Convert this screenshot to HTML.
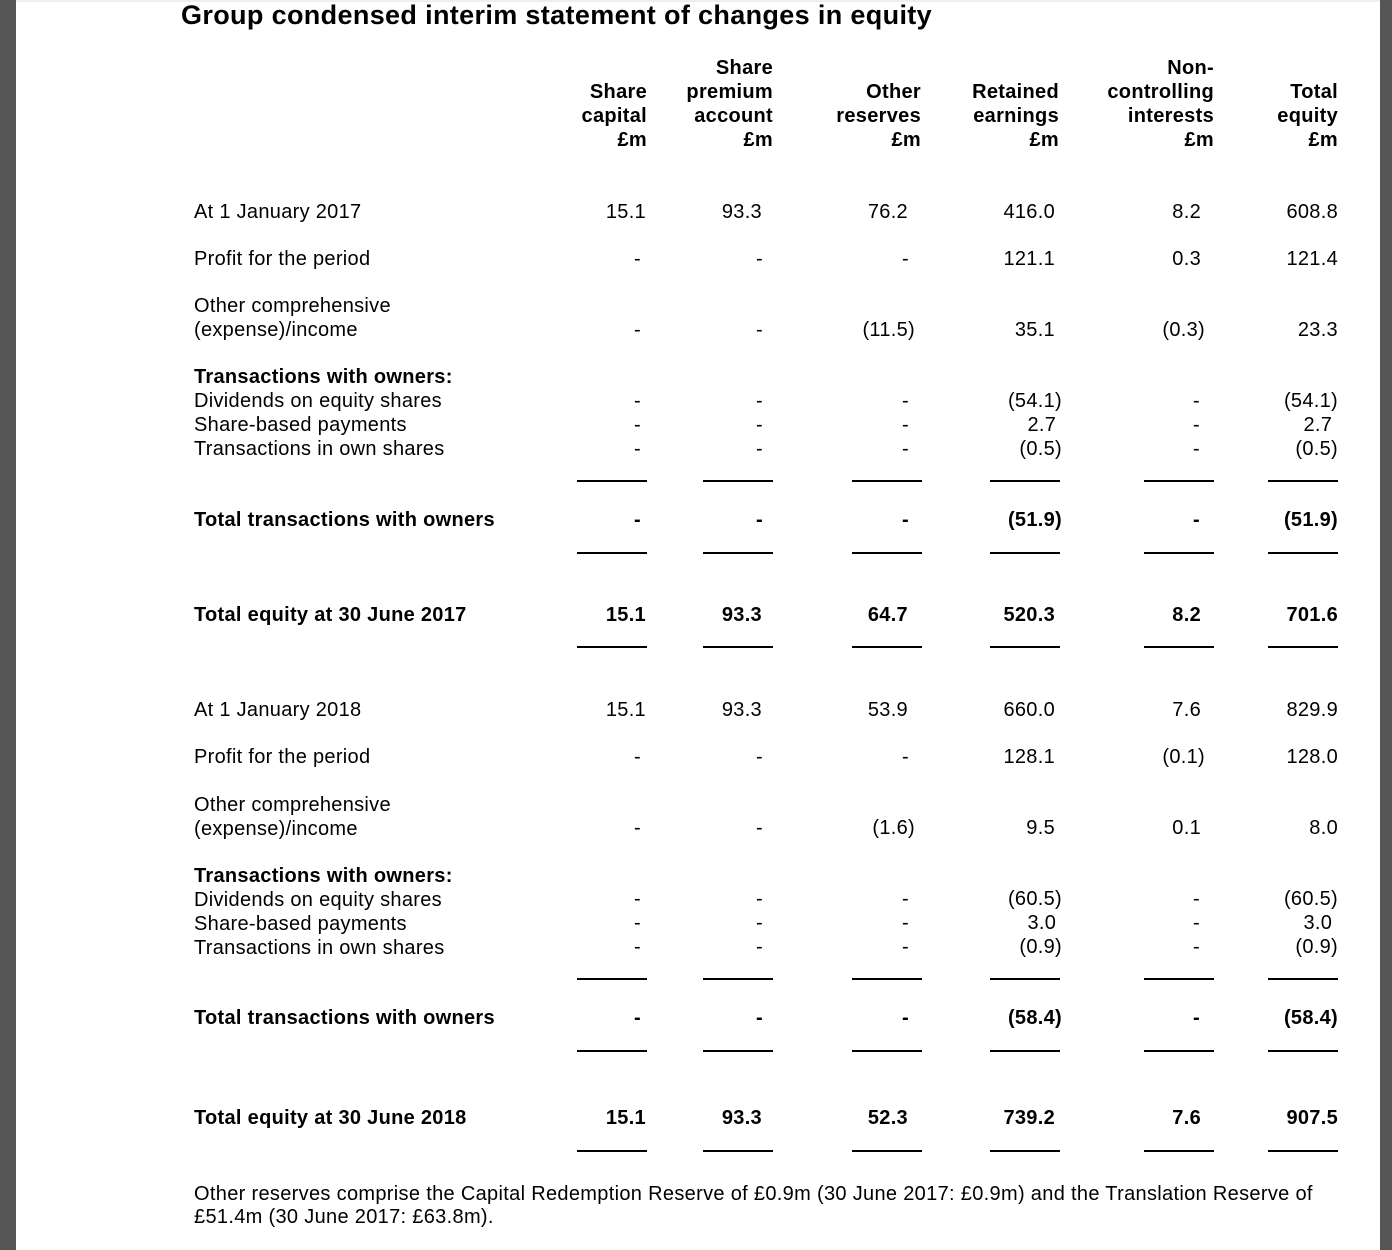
<!DOCTYPE html>
<html><head><meta charset="utf-8"><style>
body{margin:0;width:1392px;height:1250px;position:relative;background:#fff;font-family:"Liberation Sans",Arial,sans-serif;color:#000;overflow:hidden}
.lg{position:absolute;left:0;top:0;width:16px;height:1250px;background:#555}
.rg{position:absolute;left:1380px;top:0;width:12px;height:1250px;background:#555}
.tp{position:absolute;left:16px;top:0;width:1364px;height:2px;background:#eee}
.t{position:absolute;font-size:20px;line-height:24px;white-space:nowrap;letter-spacing:0.3px;margin-top:1px}
.l{left:194px}
.b{font-weight:bold}
.h{position:absolute;font-size:20px;line-height:24px;font-weight:bold;text-align:right;white-space:nowrap;letter-spacing:0.3px}
.ln{position:absolute;height:2px;background:#000;width:70px}
</style></head><body>
<div class="lg"></div><div class="rg"></div><div class="tp"></div>
<div class="t b" style="left:181px;top:-1px;font-size:27px;line-height:32px;letter-spacing:0.35px;margin-top:0">Group condensed interim statement of changes in equity</div>

<div class="h" style="right:745px;top:80px">Share<br>capital<br>£m</div>
<div class="h" style="right:619px;top:56px">Share<br>premium<br>account<br>£m</div>
<div class="h" style="right:471px;top:80px">Other<br>reserves<br>£m</div>
<div class="h" style="right:333px;top:80px">Retained<br>earnings<br>£m</div>
<div class="h" style="right:178px;top:56px">Non-<br>controlling<br>interests<br>£m</div>
<div class="h" style="right:54px;top:80px">Total<br>equity<br>£m</div>

<!-- 2017 -->
<div class="t l" style="top:199px">At 1 January 2017</div>
<div class="t" style="top:199px;right:746px">15.1</div><div class="t" style="top:199px;right:630px">93.3</div><div class="t" style="top:199px;right:484px">76.2</div><div class="t" style="top:199px;right:337px">416.0</div><div class="t" style="top:199px;right:191px">8.2</div><div class="t" style="top:199px;right:54px">608.8</div>

<div class="t l" style="top:246px">Profit for the period</div>
<div class="t" style="top:246px;right:751px">-</div><div class="t" style="top:246px;right:629px">-</div><div class="t" style="top:246px;right:483px">-</div><div class="t" style="top:246px;right:337px">121.1</div><div class="t" style="top:246px;right:191px">0.3</div><div class="t" style="top:246px;right:54px">121.4</div>

<div class="t l" style="top:293px">Other comprehensive<br>(expense)/income</div>
<div class="t" style="top:317px;right:751px">-</div><div class="t" style="top:317px;right:629px">-</div><div class="t" style="top:317px;right:477px">(11.5)</div><div class="t" style="top:317px;right:337px">35.1</div><div class="t" style="top:317px;right:187px">(0.3)</div><div class="t" style="top:317px;right:54px">23.3</div>

<div class="t l" style="top:364px"><b>Transactions with owners:</b><br>Dividends on equity shares<br>Share-based payments<br>Transactions in own shares</div>
<div class="t" style="top:388px;right:751px;text-align:right">-<br>-<br>-</div>
<div class="t" style="top:388px;right:629px;text-align:right">-<br>-<br>-</div>
<div class="t" style="top:388px;right:483px;text-align:right">-<br>-<br>-</div>
<div class="t" style="top:388px;right:330px;text-align:right">(54.1)<br>2.7&nbsp;<br>(0.5)</div>
<div class="t" style="top:388px;right:192px;text-align:right">-<br>-<br>-</div>
<div class="t" style="top:388px;right:54px;text-align:right">(54.1)<br>2.7&nbsp;<br>(0.5)</div>

<div class="ln" style="left:577px;top:480px"></div><div class="ln" style="left:703px;top:480px"></div><div class="ln" style="left:852px;top:480px"></div><div class="ln" style="left:990px;top:480px"></div><div class="ln" style="left:1144px;top:480px"></div><div class="ln" style="left:1268px;top:480px"></div>

<div class="t l b" style="top:507px">Total transactions with owners</div>
<div class="t b" style="top:507px;right:751px">-</div><div class="t b" style="top:507px;right:629px">-</div><div class="t b" style="top:507px;right:483px">-</div><div class="t b" style="top:507px;right:330px">(51.9)</div><div class="t b" style="top:507px;right:192px">-</div><div class="t b" style="top:507px;right:54px">(51.9)</div>

<div class="ln" style="left:577px;top:552px"></div><div class="ln" style="left:703px;top:552px"></div><div class="ln" style="left:852px;top:552px"></div><div class="ln" style="left:990px;top:552px"></div><div class="ln" style="left:1144px;top:552px"></div><div class="ln" style="left:1268px;top:552px"></div>

<div class="t l b" style="top:602px">Total equity at 30 June 2017</div>
<div class="t b" style="top:602px;right:746px">15.1</div><div class="t b" style="top:602px;right:630px">93.3</div><div class="t b" style="top:602px;right:484px">64.7</div><div class="t b" style="top:602px;right:337px">520.3</div><div class="t b" style="top:602px;right:191px">8.2</div><div class="t b" style="top:602px;right:54px">701.6</div>

<div class="ln" style="left:577px;top:646px"></div><div class="ln" style="left:703px;top:646px"></div><div class="ln" style="left:852px;top:646px"></div><div class="ln" style="left:990px;top:646px"></div><div class="ln" style="left:1144px;top:646px"></div><div class="ln" style="left:1268px;top:646px"></div>

<!-- 2018 -->
<div class="t l" style="top:697px">At 1 January 2018</div>
<div class="t" style="top:697px;right:746px">15.1</div><div class="t" style="top:697px;right:630px">93.3</div><div class="t" style="top:697px;right:484px">53.9</div><div class="t" style="top:697px;right:337px">660.0</div><div class="t" style="top:697px;right:191px">7.6</div><div class="t" style="top:697px;right:54px">829.9</div>

<div class="t l" style="top:744px">Profit for the period</div>
<div class="t" style="top:744px;right:751px">-</div><div class="t" style="top:744px;right:629px">-</div><div class="t" style="top:744px;right:483px">-</div><div class="t" style="top:744px;right:337px">128.1</div><div class="t" style="top:744px;right:187px">(0.1)</div><div class="t" style="top:744px;right:54px">128.0</div>

<div class="t l" style="top:792px">Other comprehensive<br>(expense)/income</div>
<div class="t" style="top:815px;right:751px">-</div><div class="t" style="top:815px;right:629px">-</div><div class="t" style="top:815px;right:477px">(1.6)</div><div class="t" style="top:815px;right:337px">9.5</div><div class="t" style="top:815px;right:191px">0.1</div><div class="t" style="top:815px;right:54px">8.0</div>

<div class="t l" style="top:863px"><b>Transactions with owners:</b><br>Dividends on equity shares<br>Share-based payments<br>Transactions in own shares</div>
<div class="t" style="top:886px;right:751px;text-align:right">-<br>-<br>-</div>
<div class="t" style="top:886px;right:629px;text-align:right">-<br>-<br>-</div>
<div class="t" style="top:886px;right:483px;text-align:right">-<br>-<br>-</div>
<div class="t" style="top:886px;right:330px;text-align:right">(60.5)<br>3.0&nbsp;<br>(0.9)</div>
<div class="t" style="top:886px;right:192px;text-align:right">-<br>-<br>-</div>
<div class="t" style="top:886px;right:54px;text-align:right">(60.5)<br>3.0&nbsp;<br>(0.9)</div>

<div class="ln" style="left:577px;top:978px"></div><div class="ln" style="left:703px;top:978px"></div><div class="ln" style="left:852px;top:978px"></div><div class="ln" style="left:990px;top:978px"></div><div class="ln" style="left:1144px;top:978px"></div><div class="ln" style="left:1268px;top:978px"></div>

<div class="t l b" style="top:1005px">Total transactions with owners</div>
<div class="t b" style="top:1005px;right:751px">-</div><div class="t b" style="top:1005px;right:629px">-</div><div class="t b" style="top:1005px;right:483px">-</div><div class="t b" style="top:1005px;right:330px">(58.4)</div><div class="t b" style="top:1005px;right:192px">-</div><div class="t b" style="top:1005px;right:54px">(58.4)</div>

<div class="ln" style="left:577px;top:1050px"></div><div class="ln" style="left:703px;top:1050px"></div><div class="ln" style="left:852px;top:1050px"></div><div class="ln" style="left:990px;top:1050px"></div><div class="ln" style="left:1144px;top:1050px"></div><div class="ln" style="left:1268px;top:1050px"></div>

<div class="t l b" style="top:1105px">Total equity at 30 June 2018</div>
<div class="t b" style="top:1105px;right:746px">15.1</div><div class="t b" style="top:1105px;right:630px">93.3</div><div class="t b" style="top:1105px;right:484px">52.3</div><div class="t b" style="top:1105px;right:337px">739.2</div><div class="t b" style="top:1105px;right:191px">7.6</div><div class="t b" style="top:1105px;right:54px">907.5</div>

<div class="ln" style="left:577px;top:1150px"></div><div class="ln" style="left:703px;top:1150px"></div><div class="ln" style="left:852px;top:1150px"></div><div class="ln" style="left:990px;top:1150px"></div><div class="ln" style="left:1144px;top:1150px"></div><div class="ln" style="left:1268px;top:1150px"></div>

<div class="t l" style="top:1182px;line-height:23px;letter-spacing:0.32px">Other reserves comprise the Capital Redemption Reserve of £0.9m (30 June 2017: £0.9m) and the Translation Reserve of<br>£51.4m (30 June 2017: £63.8m).</div>
</body></html>
